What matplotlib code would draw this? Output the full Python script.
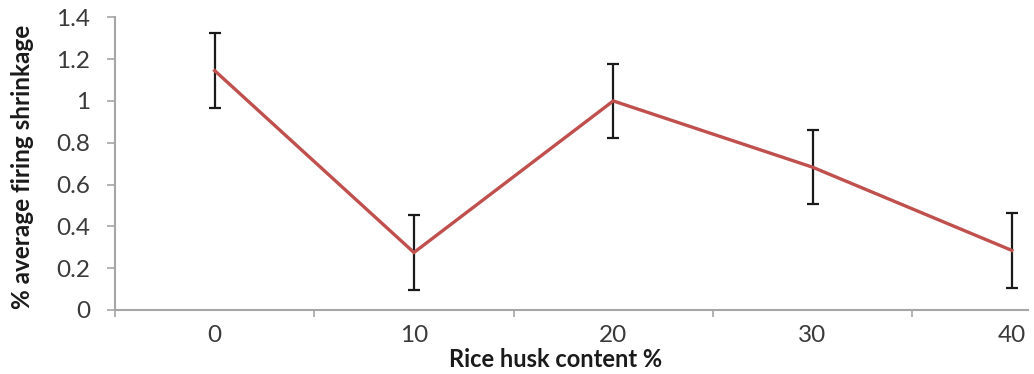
import matplotlib.pyplot as plt

# rice husk content categories and measured shrinkage
husk_labels = ["0", "10", "20", "30", "40"]
shrinkage = [1.145, 0.275, 1.0, 0.683, 0.285]
shrink_err = [0.18, 0.18, 0.178, 0.178, 0.18]

plt.rcParams['font.family'] = ['Lato', 'DejaVu Sans']

fig = plt.figure(figsize=(10.34, 3.74), dpi=100)
ax = fig.add_axes([115/1034, 1-310/374, (1028-115)/1034, (310-17.3)/374])

x = list(range(len(husk_labels)))
ax.errorbar(x, shrinkage, yerr=shrink_err, fmt='none', ecolor='#1a1a1a',
            elinewidth=1.6, capsize=4.3, capthick=1.6, zorder=2)
ax.plot(x, shrinkage, color='#C0504D', lw=2.4, zorder=3,
        solid_joinstyle='miter')

gray = '#a6a6a6'
ax.set_xlim(-0.5, -0.5 + (1028-115)/199.3)
ax.set_ylim(0, 1.4)
ax.set_yticks([0, 0.2, 0.4, 0.6, 0.8, 1.0, 1.2, 1.4])
ax.set_yticklabels(["0", "0.2", "0.4", "0.6", "0.8", "1", "1.2", "1.4"])
ax.set_xticks(x)
ax.set_xticklabels(husk_labels)
ax.set_xticks([i + 0.5 for i in range(-1, 4)], minor=True)

for s in ['top', 'right']:
    ax.spines[s].set_visible(False)
for s in ['left', 'bottom']:
    ax.spines[s].set_color(gray)
    ax.spines[s].set_linewidth(1.5)

ax.tick_params(axis='y', length=6, width=1.2, color=gray, labelsize=17.5,
               labelcolor='#3a3a3a', pad=12)
ax.tick_params(axis='x', which='major', length=0, labelsize=17.5,
               labelcolor='#3a3a3a', pad=11)
ax.tick_params(axis='x', which='minor', length=5, width=1.2, color=gray)

ax.set_xlabel("Rice husk content %", fontsize=17, fontweight='bold',
              color='#1a1a1a')
ax.xaxis.set_label_coords((556-115)/(1028-115), -0.13)
ax.set_ylabel("% average firing shrinkage", fontsize=17.5, fontweight='bold',
              color='#1a1a1a')
ax.yaxis.set_label_coords(-0.089, 0.49)

fig.savefig("out.png", dpi=100)
